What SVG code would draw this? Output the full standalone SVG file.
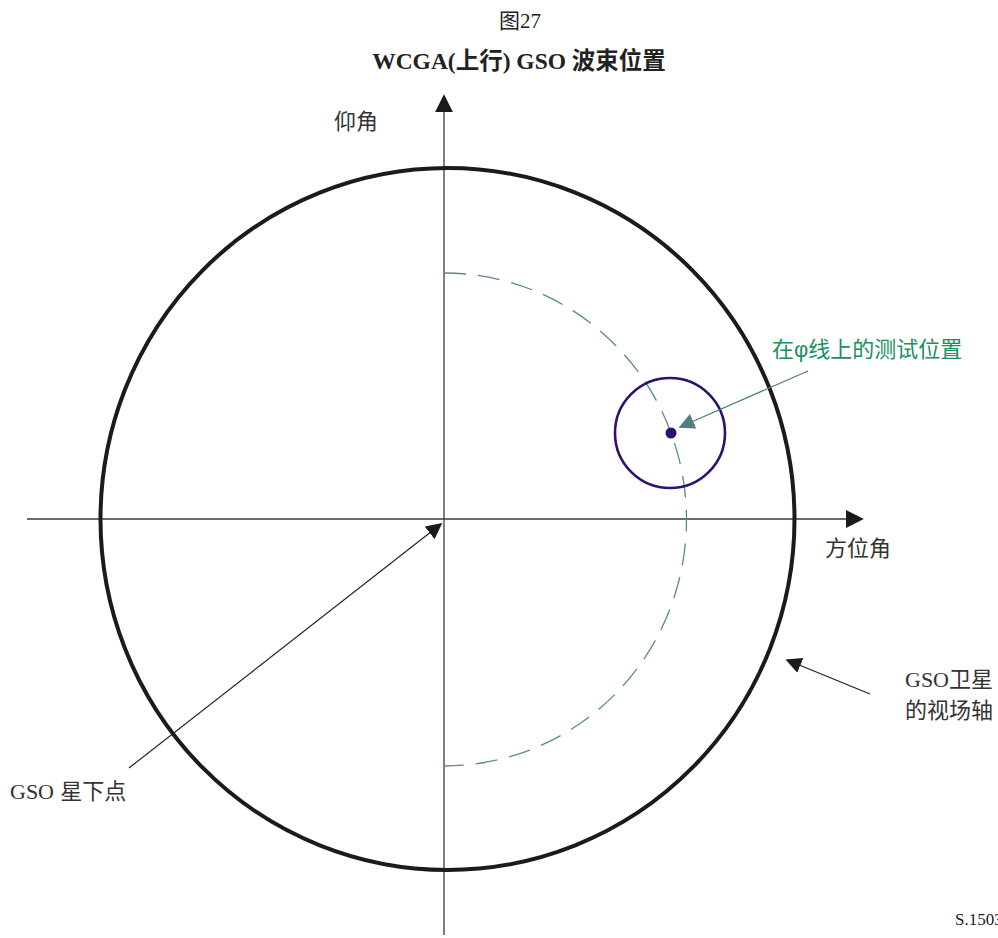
<svg xmlns="http://www.w3.org/2000/svg" width="998" height="938" viewBox="0 0 998 938">
<style>
.serif{font-family:"Liberation Serif","Noto Sans CJK SC",serif;fill:#222}
.sans{font-family:"Liberation Sans","Noto Sans CJK SC",sans-serif;fill:#333;font-size:22px}
.tm{font-family:"Liberation Serif",serif}
.ax{stroke:#3a3a3a;stroke-width:1.3;fill:none}
.ln{stroke:#222;stroke-width:1.2;fill:none}
</style>
<defs>
<marker id="ah" viewBox="0 0 10 10" refX="9" refY="5" markerWidth="16" markerHeight="16" markerUnits="userSpaceOnUse" orient="auto"><path d="M0,0 L10,5 L0,10 z" fill="#1a1a1a"/></marker>
<marker id="ahb" viewBox="0 0 10 10" refX="9" refY="5" markerWidth="18" markerHeight="18" markerUnits="userSpaceOnUse" orient="auto"><path d="M0,0 L10,5 L0,10 z" fill="#1a1a1a"/></marker>
<marker id="aht" viewBox="0 0 10 10" refX="9" refY="5" markerWidth="16" markerHeight="16" markerUnits="userSpaceOnUse" orient="auto"><path d="M0,0 L10,5 L0,10 z" fill="#4f7f80"/></marker>
</defs>
<rect width="998" height="938" fill="#fff"/>
<text class="serif" x="520" y="28" font-size="21" text-anchor="middle">图27</text>
<text class="serif" x="519" y="69" font-size="23.5" font-weight="bold" text-anchor="middle">WCGA(上行) GSO 波束位置</text>
<g id="axes">
<line class="ax" x1="444" y1="935" x2="444" y2="96" marker-end="url(#ahb)"/>
<line class="ax" x1="27" y1="519" x2="862" y2="519" marker-end="url(#ahb)"/>
</g>
<g id="fov-circle"><ellipse cx="447.5" cy="519" rx="347" ry="351" fill="none" stroke="#1e1a17" stroke-width="4"/></g>
<g id="phi-line"><path d="M444,273 A242,246 0 0 1 444,766" fill="none" stroke="#5a8a8a" stroke-width="1.3" stroke-dasharray="22,12"/></g>
<g id="test-position">
<circle cx="670" cy="433" r="55" fill="none" stroke="#2e1070" stroke-width="2.6"/>
<circle cx="671" cy="433" r="5.5" fill="#2e1070"/>
</g>
<g id="connectors">
<line x1="808" y1="371" x2="680" y2="427" stroke="#4f7f80" stroke-width="1.2" marker-end="url(#aht)"/>
<line class="ln" x1="870" y1="694" x2="787" y2="660" marker-end="url(#ah)"/>
<line class="ln" x1="129" y1="768" x2="441" y2="524" marker-end="url(#ah)"/>
</g>
<g id="labels">
<text class="sans" x="334" y="129">仰角</text>
<text class="sans" x="825" y="556">方位角</text>
<text class="sans" x="772" y="357" style="fill:#1a9060">在φ线上的测试位置</text>
<text class="sans" x="905" y="687"><tspan class="tm">GSO</tspan>卫星</text>
<text class="sans" x="905" y="718">的视场轴</text>
<text class="sans" x="10" y="799"><tspan class="tm">GSO</tspan> 星下点</text>
<text class="serif" x="955" y="925" font-size="17">S.1503</text>
</g>
</svg>
